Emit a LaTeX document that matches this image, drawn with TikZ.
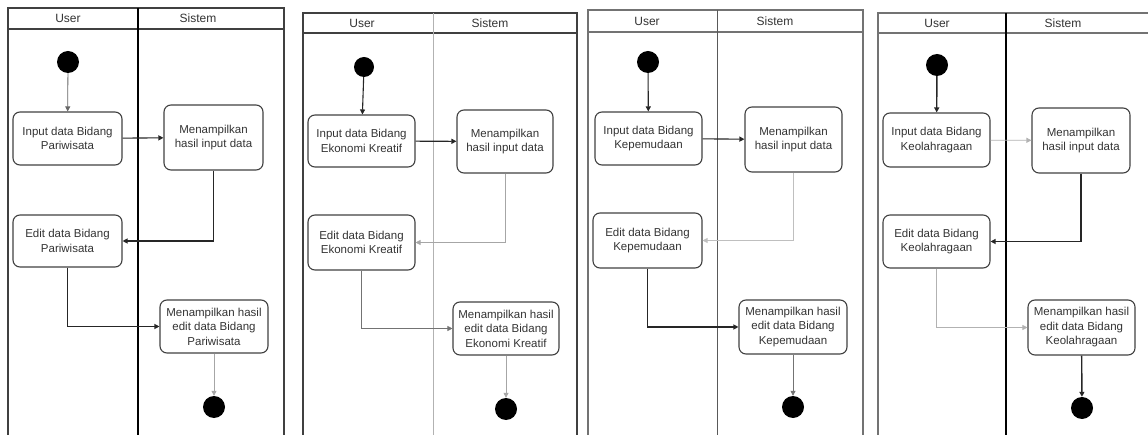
\documentclass[tikz,border=0pt]{standalone}
\usepackage{fontspec}
\setmainfont{Liberation Sans}
\usetikzlibrary{arrows.meta}

\begin{document}
\begin{tikzpicture}[
        x=1pt, y=-1pt,
        >={Triangle[length=5pt,width=5pt]},
        every node/.style={font=\fontsize{11.5}{14.5}\selectfont, text=black!80},
        laneLine/.style={black!75, line width=1.1pt},
        laneHead/.style={font=\fontsize{12}{14}\selectfont},
        actBox/.style={draw=black!75, line width=1.1pt, rounded corners=7pt,
            align=center, inner sep=2pt},
        dotNode/.style={circle, fill=black, inner sep=0pt, minimum size=22pt},
        flowDark/.style={->, black!85, line width=1.1pt},
        flowLight/.style={->, black!35, line width=0.8pt}
    ]
        \useasboundingbox (0,0) rectangle (1148,435);

        % ---------- Panel 1: Pariwisata ----------
        \draw[laneLine] (8,435) -- (8,8) -- (284,8) -- (284,435);
        \draw[laneLine] (8,29) -- (284,29);
        \draw[black, line width=1.5pt] (138,8) -- (138,435);
        \node[laneHead] (p1user) at (68,18) {User};
        \node[laneHead] (p1sys) at (198,18) {Sistem};

        \node[dotNode] (p1start) at (68,62) {};
        \node[actBox, minimum width=109pt, minimum height=53pt] (p1in) at (67.5,138.5)
            {Input data Bidang\\Pariwisata};
        \node[actBox, minimum width=99pt, minimum height=65pt] (p1show) at (213.5,137.5)
            {Menampilkan\\hasil input data};
        \node[actBox, minimum width=109pt, minimum height=52pt] (p1edit) at (67.5,241)
            {Edit data Bidang\\Pariwisata};
        \node[actBox, minimum width=108pt, minimum height=53pt] (p1res) at (214,326.5)
            {Menampilkan hasil\\edit data Bidang\\Pariwisata};
        \node[dotNode] (p1end) at (214,407) {};

        \draw[flowDark, black!60, line width=0.8pt] (p1start) -- (p1in);
        \draw[flowDark] (p1in) -- (p1show);
        \draw[flowDark] (p1show) |- (p1edit);
        \draw[flowDark] (p1edit) |- (p1res);
        \draw[flowLight] (p1res) -- (p1end);

        % ---------- Panel 2: Ekonomi Kreatif ----------
        \draw[laneLine, line width=1.4pt] (303,435) -- (303,13) -- (577,13) -- (577,435);
        \draw[laneLine] (303,33) -- (577,33);
        \draw[black!30, line width=0.8pt] (433,13) -- (433,435);
        \node[laneHead] (p2user) at (362,23) {User};
        \node[laneHead] (p2sys) at (490,23) {Sistem};

        \node[dotNode, minimum size=20pt] (p2start) at (364,67) {};
        \node[actBox, minimum width=107pt, minimum height=52pt] (p2in) at (361.5,141)
            {Input data Bidang\\Ekonomi Kreatif};
        \node[actBox, minimum width=96pt, minimum height=63pt] (p2show) at (505,141.5)
            {Menampilkan\\hasil input data};
        \node[actBox, minimum width=107pt, minimum height=55pt] (p2edit) at (361.5,242.5)
            {Edit data Bidang\\Ekonomi Kreatif};
        \node[actBox, minimum width=106pt, minimum height=53pt] (p2res) at (506,328.5)
            {Menampilkan hasil\\edit data Bidang\\Ekonomi Kreatif};
        \node[dotNode] (p2end) at (506,409) {};

        \draw[flowDark] (p2start) -- (p2in);
        \draw[flowDark] (p2in) -- (p2show);
        \draw[flowLight] (p2show) |- (p2edit);
        \draw[flowLight, black!55] (p2edit) |- (p2res);
        \draw[flowLight] (p2res) -- (p2end);

        % ---------- Panel 3: Kepemudaan ----------
        \draw[laneLine, black!55] (588,435) -- (588,10) -- (863,10) -- (863,435);
        \draw[laneLine, black!55] (588,32) -- (863,32);
        \draw[black!65, line width=1.0pt] (717,10) -- (717,435);
        \node[laneHead] (p3user) at (647,21) {User};
        \node[laneHead] (p3sys) at (775,21) {Sistem};

        \node[dotNode] (p3start) at (648,62) {};
        \node[actBox, minimum width=107pt, minimum height=53pt] (p3in) at (648.5,138.5)
            {Input data Bidang\\Kepemudaan};
        \node[actBox, minimum width=97pt, minimum height=65pt] (p3show) at (793.5,139.5)
            {Menampilkan\\hasil input data};
        \node[actBox, minimum width=109pt, minimum height=55pt] (p3edit) at (647.5,240.5)
            {Edit data Bidang\\Kepemudaan};
        \node[actBox, minimum width=108pt, minimum height=54pt] (p3res) at (793,327)
            {Menampilkan hasil\\edit data Bidang\\Kepemudaan};
        \node[dotNode] (p3end) at (793,407) {};

        \draw[flowDark] (p3start) -- (p3in);
        \draw[flowDark] (p3in) -- (p3show);
        \draw[flowLight, black!25] (p3show) |- (p3edit);
        \draw[flowDark] (p3edit) |- (p3res);
        \draw[flowLight, black!55] (p3res) -- (p3end);

        % ---------- Panel 4: Keolahragaan ----------
        \draw[laneLine, black!55] (878,435) -- (878,13) -- (1148,13);
        \draw[laneLine, black!55] (878,33) -- (1148,33);
        \draw[black, line width=1.5pt] (1006,13) -- (1006,435);
        \node[laneHead] (p4user) at (937,23) {User};
        \node[laneHead] (p4sys) at (1063,23) {Sistem};

        \node[dotNode] (p4start) at (937,65) {};
        \node[actBox, minimum width=107pt, minimum height=54pt] (p4in) at (936.5,140)
            {Input data Bidang\\Keolahragaan};
        \node[actBox, minimum width=98pt, minimum height=65pt] (p4show) at (1081,140.5)
            {Menampilkan\\hasil input data};
        \node[actBox, minimum width=107pt, minimum height=53pt] (p4edit) at (936.5,241.5)
            {Edit data Bidang\\Keolahragaan};
        \node[actBox, minimum width=107pt, minimum height=55pt] (p4res) at (1081.5,327.5)
            {Menampilkan hasil\\edit data Bidang\\Keolahragaan};
        \node[dotNode] (p4end) at (1082,408) {};

        \draw[flowDark, line width=1.4pt] (p4start) -- (p4in);
        \draw[flowLight, black!30] (p4in) -- (p4show);
        \draw[flowDark, line width=1.4pt] (p4show) |- (p4edit);
        \draw[flowLight, black!30] (p4edit) |- (p4res);
        \draw[flowDark, line width=1.4pt] (p4res) -- (p4end);

    \end{tikzpicture}
\end{document}
